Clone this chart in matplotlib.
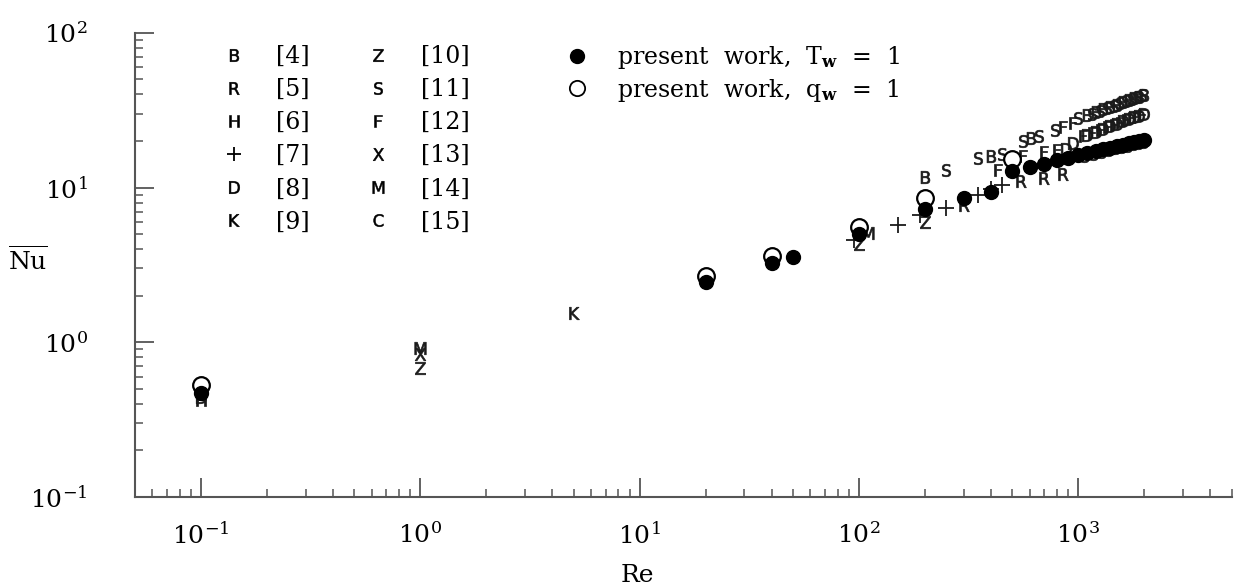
import matplotlib
matplotlib.use("Agg")
import matplotlib.pyplot as plt
from matplotlib.lines import Line2D

# --- data ----------------------------------------------------------------
# present work, T_w = 1 (filled circles)
re_tw = [0.1, 20, 40, 50, 100, 200, 300, 400, 500, 600, 700, 800, 900, 1000,
         1100, 1200, 1300, 1400, 1500, 1600, 1700, 1800, 1900, 2000]
nu_tw = [0.47, 2.44, 3.24, 3.55, 5.0, 7.3, 8.6, 9.4, 12.8, 13.6, 14.3, 15.0, 15.6, 16.2,
         16.7, 17.2, 17.7, 18.1, 18.5, 18.9, 19.3, 19.7, 20.0, 20.4]

# present work, q_w = 1 (open circles)
re_qw = [0.1, 20, 40, 100, 200, 500]
nu_qw = [0.53, 2.68, 3.62, 5.6, 8.5, 15.2]

# literature data, one letter per reference
lit_labels = ['B', 'R', 'H', '+', 'D', 'K', 'Z', 'S', 'F', 'X', 'M', 'C']
lit_refs = ['[4]', '[5]', '[6]', '[7]', '[8]', '[9]',
            '[10]', '[11]', '[12]', '[13]', '[14]', '[15]']

lit_re = {
    'B': [200, 400, 610, 1100, 1200, 1300, 1400, 1500, 1600, 1700, 1800, 1900, 2000],
    'R': [300, 550, 700, 850],
    'H': [0.1],
    '+': [95, 150, 190, 250, 350, 400, 450],
    'D': [0.1, 880, 950, 1100, 1200, 1300, 1400, 1500, 1600, 1700, 1800, 1900, 2000],
    'K': [5],
    'Z': [1, 100, 200],
    'S': [250, 350, 450, 560, 660, 780, 1000, 1150, 1250, 1350, 1450, 1550, 1650,
          1750, 1850, 1950],
    'F': [430, 560, 700, 800, 850, 950, 1050, 1150, 1250, 1350, 1450, 1550, 1650,
          1750, 1850, 1950],
    'X': [1],
    'M': [1, 110],
    'C': [1050, 1150, 1250, 1350, 1450, 1550, 1650, 1750, 1850, 1950],
}
lit_nu = {
    'B': [11.7, 16.0, 20.8, 29.5, 30.8, 32.0, 33.2, 34.4, 35.5, 36.6, 37.7, 38.8, 39.8],
    'R': [7.7, 11.0, 11.6, 12.2],
    'H': [0.42],
    '+': [4.6, 5.7, 6.6, 7.4, 9.0, 9.8, 10.4],
    'D': [0.44, 17.8, 19.5, 22.0, 23.0, 24.0, 25.0, 25.9, 26.8, 27.6, 28.4, 29.2, 30.0],
    'K': [1.54],
    'Z': [0.68, 4.3, 6.0],
    'S': [12.9, 15.6, 16.6, 20.0, 21.5, 23.5, 28.0, 30.0, 31.4, 32.6, 33.8, 35.0, 36.2,
          37.3, 38.4, 39.5],
    'F': [12.9, 16.0, 17.0, 17.5, 24.5, 26.0, 21.5, 22.5, 23.5, 24.5, 25.4, 26.3, 27.2,
          28.0, 28.8, 29.6],
    'X': [0.84],
    'M': [0.92, 5.1],
    'C': [15.9, 16.5, 17.0, 17.5, 17.9, 18.3, 18.7, 19.1, 19.4, 19.8],
}

# --- style ---------------------------------------------------------------
plt.rcParams['font.family'] = ['DejaVu Serif']
plt.rcParams['mathtext.fontset'] = 'dejavuserif'
axis_color = '#555555'
ink = '#1a1a1a'


def letter_marker(name):
    if name == '+':
        return '+'
    return r'$\mathsf{%s}$' % name


fig = plt.figure(figsize=(12.39, 5.88), dpi=100)
ax = fig.add_axes([0.109, 0.155, 0.885, 0.789])

for name in lit_labels:
    if name == '+':
        ax.plot(lit_re[name], lit_nu[name], ls='none', marker='+',
                markersize=11, markeredgewidth=1.3, color=ink)
    else:
        ax.plot(lit_re[name], lit_nu[name], ls='none', marker=letter_marker(name),
                markersize=9, markeredgewidth=0.5, color=ink)

ax.plot(re_qw, nu_qw, ls='none', marker='o', markersize=12,
        markerfacecolor='white', markeredgecolor='black', markeredgewidth=1.6)
ax.plot(re_tw, nu_tw, ls='none', marker='o', markersize=10, color='black')

ax.set_xscale('log')
ax.set_yscale('log')
ax.set_xlim(0.05, 5000)
ax.set_ylim(0.1, 100)

for side in ['top', 'right']:
    ax.spines[side].set_visible(False)
for side in ['left', 'bottom']:
    ax.spines[side].set_color(axis_color)
    ax.spines[side].set_linewidth(1.5)

ax.tick_params(which='major', direction='in', length=14, width=1.3,
               color=axis_color, labelsize=18)
ax.tick_params(which='minor', direction='in', length=6, width=1.1,
               color=axis_color)
ax.tick_params(axis='x', which='major', pad=18)
ax.tick_params(axis='y', which='major', pad=34)

fig.text(637 / 1239, 1 - 575 / 588, 'Re', fontsize=18, ha='center', va='center')
fig.text(28 / 1239, 1 - 260 / 588, r'$\overline{\mathrm{Nu}}$', fontsize=18,
         ha='center', va='center')

# key of the literature letters
key_handles = []
for n in lit_labels:
    if n == '+':
        key_handles.append(Line2D([], [], ls='none', marker='+', markersize=10,
                                  markeredgewidth=1.3, color='black'))
    else:
        key_handles.append(Line2D([], [], ls='none', marker=letter_marker(n),
                                  markersize=9, markeredgewidth=0.4, color='black'))
key = ax.legend(key_handles, lit_refs, ncol=2, loc='upper left',
                bbox_to_anchor=(210 / 1239, 1 - 33 / 588),
                bbox_transform=fig.transFigure, frameon=False, fontsize=17,
                borderpad=0, handlelength=1.0, handletextpad=1.3,
                labelspacing=0.43, columnspacing=2.4)
ax.add_artist(key)

# present work key
pw_handles = [
    Line2D([], [], ls='none', marker='o', markersize=10, color='black'),
    Line2D([], [], ls='none', marker='o', markersize=11, markerfacecolor='white',
           markeredgecolor='black', markeredgewidth=1.3),
]
pw_labels = [r'present  work,  T$_{\mathbf{w}}$  =  1',
             r'present  work,  q$_{\mathbf{w}}$  =  1']
ax.legend(pw_handles, pw_labels, loc='upper left',
          bbox_to_anchor=(553 / 1239, 1 - 32 / 588),
          bbox_transform=fig.transFigure, frameon=False, fontsize=17,
          borderpad=0, handlelength=1.0, handletextpad=1.2, labelspacing=0.25)

fig.savefig('out.png', dpi=100)
